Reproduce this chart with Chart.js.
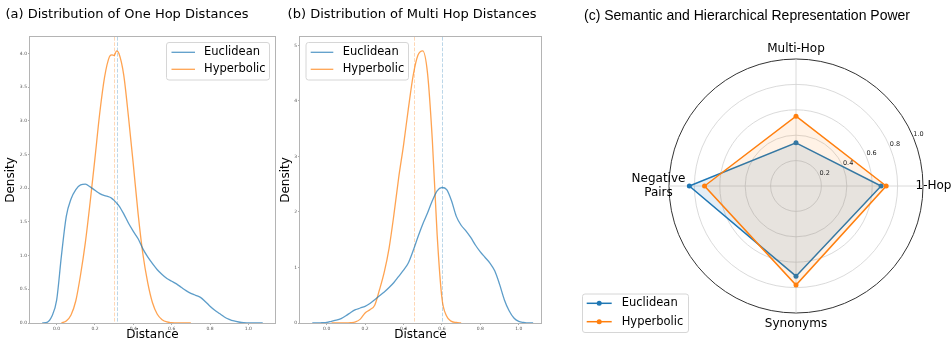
<!DOCTYPE html>
<html>
<head>
<meta charset="utf-8">
<script src="https://cdn.jsdelivr.net/npm/chart.js@4.4.0/dist/chart.umd.min.js"></script>
<style>
  html, body { margin: 0; padding: 0; background: #fff; }
  #fig { position: relative; width: 952px; height: 343px; overflow: hidden; }
  #fig canvas { position: absolute; top: 0; }
</style>
</head>
<body>
<div id="fig">
  <canvas id="oneHop" width="290" height="343" style="left:0"></canvas>
  <canvas id="multiHop" width="277" height="343" style="left:278px"></canvas>
  <canvas id="radar" width="392" height="343" style="left:560px"></canvas>
</div>
<script>
// ---- (a) one hop distance densities ----
const oneHopGrid = [-0.075, -0.05, -0.025, 0, 0.025, 0.05, 0.075, 0.1, 0.125, 0.15, 0.175, 0.2, 0.225, 0.25, 0.275, 0.2875, 0.3, 0.3125, 0.325, 0.35, 0.375, 0.4, 0.425, 0.45, 0.475, 0.5, 0.525, 0.55, 0.575, 0.6, 0.625, 0.65, 0.675, 0.7, 0.725, 0.75, 0.775, 0.8, 0.825, 0.85, 0.875, 0.9, 0.925, 0.95, 0.975, 1.0, 1.025, 1.05, 1.075];
const oneHopEuclidean = [0, 0.01, 0.1, 0.34, 1.0, 1.58, 1.84, 1.98, 2.05, 2.06, 2.02, 1.97, 1.92, 1.89, 1.87, 1.85, 1.82, 1.78, 1.74, 1.62, 1.48, 1.36, 1.25, 1.1, 0.98, 0.88, 0.79, 0.72, 0.66, 0.62, 0.58, 0.53, 0.48, 0.44, 0.41, 0.38, 0.32, 0.25, 0.19, 0.14, 0.09, 0.055, 0.03, 0.015, 0.005, 0.002, 0, 0, 0];
const oneHopHyperbolic = [null, null, null, null, 0, 0.03, 0.12, 0.33, 0.72, 1.2, 1.8, 2.45, 3.12, 3.65, 3.95, 3.98, 3.97, 4.04, 4.0, 3.68, 3.05, 2.35, 1.62, 1.02, 0.6, 0.3, 0.13, 0.05, 0.015, 0.005, 0, 0, 0, 0, null, null, null, null, null, null, null, null, null, null, null, null, null, null, null];
const oneHopMeans = [0.313, 0.300]; // Euclidean, Hyperbolic

// ---- (b) multi hop distance densities ----
const multiHopGrid = [-0.075, -0.05, -0.025, 0, 0.025, 0.05, 0.075, 0.1, 0.125, 0.15, 0.175, 0.2, 0.225, 0.25, 0.275, 0.3, 0.325, 0.35, 0.375, 0.4, 0.425, 0.45, 0.475, 0.5, 0.525, 0.55, 0.575, 0.6, 0.625, 0.65, 0.675, 0.7, 0.725, 0.75, 0.775, 0.8, 0.825, 0.85, 0.875, 0.9, 0.925, 0.95, 0.975, 1.0, 1.025, 1.05, 1.075];
const multiHopEuclidean = [0, 0, 0.005, 0.01, 0.03, 0.05, 0.08, 0.13, 0.19, 0.24, 0.27, 0.3, 0.35, 0.42, 0.49, 0.56, 0.64, 0.73, 0.84, 0.95, 1.08, 1.3, 1.55, 1.78, 1.98, 2.2, 2.38, 2.44, 2.4, 2.2, 1.92, 1.76, 1.66, 1.54, 1.4, 1.28, 1.18, 1.08, 0.94, 0.7, 0.42, 0.22, 0.09, 0.03, 0.01, 0, 0];
const multiHopHyperbolic = [null, null, null, null, 0, 0, 0, 0, 0.005, 0.02, 0.07, 0.18, 0.24, 0.32, 0.6, 0.92, 1.35, 1.95, 2.62, 3.2, 3.85, 4.45, 4.82, 4.9, 4.5, 3.3, 1.6, 0.45, 0.12, 0.03, 0.01, 0, null, null, null, null, null, null, null, null, null, null, null, null, null, null, null];
const multiHopMeans = [0.600, 0.457]; // Euclidean, Hyperbolic

// ---- (c) representation power ----
const radarAxes = ['Multi-Hop', '1-Hop', 'Synonyms', ['Negative', 'Pairs']];
const radarEuclidean = [0.34, 0.67, 0.71, 0.84];
const radarHyperbolic = [0.55, 0.71, 0.78, 0.72];
const radarTicks = [0.2, 0.4, 0.6, 0.8, 1.0];

const seriesNames = ['Euclidean', 'Hyperbolic'];

Chart.defaults.font.family = '"DejaVu Sans", sans-serif';
Chart.defaults.color = '#000';

const kdeLine = ['rgba(31,119,180,0.72)', 'rgba(255,127,14,0.72)'];
const kdeMean = ['rgba(31,119,180,0.3)', 'rgba(255,127,14,0.3)'];
const tab = ['#1f77b4', '#ff7f0e'];

function drawLegend(ctx, L, items, marker) {
    ctx.save();
    ctx.beginPath();
    if (ctx.roundRect) ctx.roundRect(L.x, L.y, L.w, L.h, 2.5);
    else ctx.rect(L.x, L.y, L.w, L.h);
    ctx.fillStyle = 'rgba(255,255,255,0.8)';
    ctx.fill();
    ctx.strokeStyle = '#d6d6d6';
    ctx.lineWidth = 1;
    ctx.stroke();
    ctx.font = '11.5px "DejaVu Sans"';
    ctx.textBaseline = 'middle';
    ctx.textAlign = 'left';
    items.forEach((it, i) => {
        const y = L.rows[i];
        ctx.strokeStyle = it.color;
        ctx.lineWidth = it.width;
        ctx.beginPath();
        ctx.moveTo(L.lineX[0], y);
        ctx.lineTo(L.lineX[1], y);
        ctx.stroke();
        if (marker) {
            ctx.fillStyle = it.color;
            ctx.beginPath();
            ctx.arc((L.lineX[0] + L.lineX[1]) / 2, y, 2.5, 0, Math.PI * 2);
            ctx.fill();
        }
        ctx.fillStyle = '#000';
        ctx.fillText(it.label, L.textX, y);
    });
    ctx.restore();
}

// frame, mean lines, title and legend for a density panel
function kdeDecor(cfg) {
    return {
        id: 'kdeDecor',
        beforeDatasetsDraw(chart) {
            const { ctx, chartArea: a, scales: { x } } = chart;
            ctx.save();
            ctx.lineWidth = 1;
            ctx.setLineDash([3.7, 1.6]);
            cfg.means.forEach((m, i) => {
                const px = Math.round(x.getPixelForValue(m)) + 0.5;
                ctx.strokeStyle = kdeMean[i];
                ctx.beginPath();
                ctx.moveTo(px, a.top);
                ctx.lineTo(px, a.bottom);
                ctx.stroke();
            });
            ctx.restore();
        },
        afterDraw(chart) {
            const { ctx, chartArea: a } = chart;
            ctx.save();
            ctx.strokeStyle = '#b4b4b4';
            ctx.lineWidth = 1;
            ctx.strokeRect(a.left - 0.5, a.top - 0.5, a.right - a.left + 1, a.bottom - a.top + 1);
            ctx.font = '13px "DejaVu Sans"';
            ctx.fillStyle = '#000';
            ctx.textAlign = 'center';
            ctx.textBaseline = 'middle';
            ctx.fillText(cfg.title, cfg.titleX, 15);
            ctx.restore();
            drawLegend(ctx, cfg.legend,
                chart.data.datasets.map((d) => ({ label: d.label, color: d.borderColor, width: 1.3 })), false);
        },
    };
}

function kdeChart(id, cfg) {
    const pts = (ys) => cfg.grid.map((x, i) => ({ x, y: ys[i] })).filter((p) => p.y !== null);
    return new Chart(document.getElementById(id), {
        type: 'line',
        data: {
            datasets: [cfg.euclidean, cfg.hyperbolic].map((ys, i) => ({
                label: seriesNames[i],
                data: pts(ys),
                borderColor: kdeLine[i],
                borderWidth: 1.3,
                pointRadius: 0,
                cubicInterpolationMode: 'monotone',
                fill: false,
            })),
        },
        options: {
            responsive: false,
            animation: false,
            layout: { padding: cfg.padding },
            plugins: { legend: { display: false }, title: { display: false }, tooltip: { enabled: false } },
            scales: {
                x: {
                    type: 'linear',
                    min: cfg.xMin,
                    max: cfg.xMax,
                    afterFit: (s) => { s.height = 20; },
                    border: { display: false },
                    grid: { drawOnChartArea: false, tickLength: 2, color: '#999', lineWidth: 0.8 },
                    ticks: {
                        stepSize: 0.2, includeBounds: false, maxRotation: 0, padding: 1,
                        font: { size: 4.5 }, color: '#555',
                        callback: (v) => v.toFixed(1),
                    },
                    title: { display: true, text: 'Distance', font: { size: 12 }, padding: { top: 0, bottom: 1 } },
                },
                y: {
                    min: 0,
                    max: cfg.yMax,
                    afterFit: (s) => { s.width = cfg.yWidth; },
                    border: { display: false },
                    grid: { drawOnChartArea: false, tickLength: 2, color: '#999', lineWidth: 0.8 },
                    ticks: {
                        stepSize: cfg.yStep, includeBounds: false, padding: 1,
                        font: { size: 4.5 }, color: '#555',
                        callback: (v) => v.toFixed(cfg.yDigits),
                    },
                    title: { display: true, text: 'Density', font: { size: 12 }, padding: { top: cfg.yTitlePad, bottom: 0 } },
                },
            },
        },
        plugins: [kdeDecor(cfg)],
    });
}

kdeChart('oneHop', {
    grid: oneHopGrid, euclidean: oneHopEuclidean, hyperbolic: oneHopHyperbolic, means: oneHopMeans,
    xMin: -0.139, xMax: 1.139, yMax: 4.245, yStep: 0.5, yDigits: 1,
    padding: { left: 0, top: 37, right: 15, bottom: 0 }, yWidth: 30, yTitlePad: 4,
    title: '(a) Distribution of One Hop Distances', titleX: 127,
    legend: { x: 166.5, y: 42.5, w: 103, h: 37.5, rows: [52.3, 69.3], lineX: [171.5, 195], textX: 204 },
});

kdeChart('multiHop', {
    grid: multiHopGrid, euclidean: multiHopEuclidean, hyperbolic: multiHopHyperbolic, means: multiHopMeans,
    xMin: -0.139, xMax: 1.116, yMax: 5.15, yStep: 1, yDigits: 0,
    padding: { left: 0, top: 37, right: 14, bottom: 0 }, yWidth: 22, yTitlePad: 1,
    title: '(b) Distribution of Multi Hop Distances', titleX: 134,
    legend: { x: 28, y: 42.5, w: 102.5, h: 37.5, rows: [52.3, 69.3], lineX: [32.7, 55.3], textX: 64.7 },
});

// point labels, radial tick labels, title and legend for the radar
const radarDecor = {
    id: 'radarDecor',
    afterDraw(chart) {
        const { ctx } = chart;
        const r = chart.scales.r;
        ctx.save();
        ctx.fillStyle = '#000';
        ctx.font = '12px "DejaVu Sans"';
        ctx.textAlign = 'center';
        ctx.textBaseline = 'middle';
        chart.data.labels.forEach((lab, i) => {
            const p = r.getPointPosition(i, r.drawingArea + 10.5);
            const lines = [].concat(lab);
            lines.forEach((t, k) => ctx.fillText(t, p.x, p.y + (k - (lines.length - 1) / 2) * 14));
        });
        ctx.font = '6.5px "DejaVu Sans"';
        ctx.fillStyle = '#222';
        ctx.textAlign = 'left';
        ctx.textBaseline = 'bottom';
        const ang = 22.5 * Math.PI / 180;
        radarTicks.forEach((v) => {
            const d = r.getDistanceFromCenterForValue(v);
            ctx.fillText(v.toFixed(1), r.xCenter + d * Math.cos(ang), r.yCenter - d * Math.sin(ang));
        });
        ctx.font = '14px "Liberation Sans"';
        ctx.fillStyle = '#000';
        ctx.textAlign = 'center';
        ctx.textBaseline = 'middle';
        ctx.fillText('(c) Semantic and Hierarchical Representation Power', 187, 16);
        ctx.restore();
        drawLegend(ctx, { x: 22.5, y: 294, w: 106, h: 38.5, rows: [303.3, 321.7], lineX: [26.7, 51.7], textX: 61.7 },
            seriesNames.map((n, i) => ({ label: n, color: tab[i], width: 1.5 })), true);
    },
};

new Chart(document.getElementById('radar'), {
    type: 'radar',
    data: {
        labels: radarAxes,
        datasets: [radarEuclidean, radarHyperbolic].map((vals, i) => ({
            label: seriesNames[i],
            data: vals,
            borderColor: tab[i],
            backgroundColor: i === 0 ? 'rgba(31,119,180,0.12)' : 'rgba(255,127,14,0.1)',
            fill: true,
            borderWidth: 1.5,
            pointRadius: 2.5,
            pointBorderWidth: 0,
            pointBackgroundColor: tab[i],
            order: 1 - i,
        })),
    },
    options: {
        responsive: false,
        animation: false,
        layout: { padding: { left: 109, right: 29, top: 59, bottom: 30 } },
        plugins: { legend: { display: false }, title: { display: false }, tooltip: { enabled: false } },
        scales: {
            r: {
                min: 0,
                max: 1,
                ticks: { display: false, stepSize: 0.2 },
                pointLabels: { display: false },
                grid: {
                    circular: true,
                    color: (c) => (c.tick && c.tick.value === 1 ? '#333' : '#d0d0d0'),
                    lineWidth: (c) => (c.tick && c.tick.value === 1 ? 1 : 0.8),
                },
                angleLines: { color: '#d0d0d0', lineWidth: 0.8 },
            },
        },
    },
    plugins: [radarDecor],
});
</script>
</body>
</html>
